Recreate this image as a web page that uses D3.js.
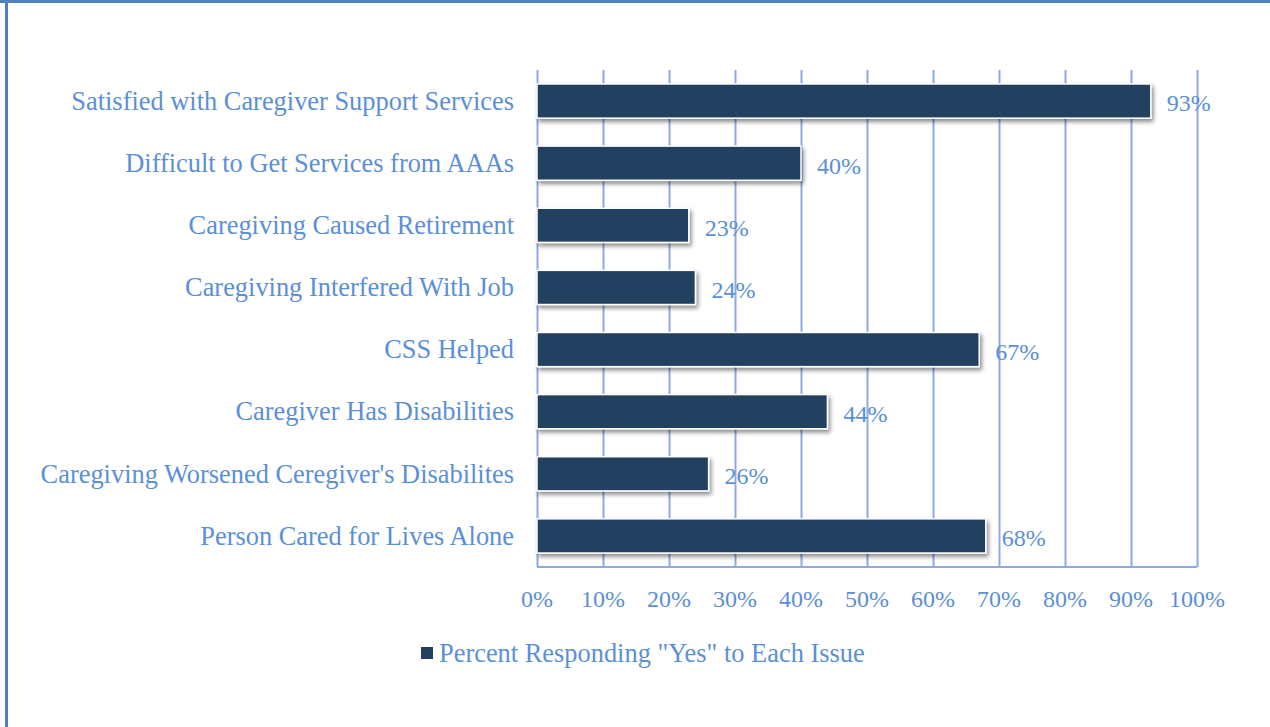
<!DOCTYPE html>
<html>
<head>
<meta charset="utf-8">
<script src="https://cdn.jsdelivr.net/npm/d3@7"></script>
<style>
	body { margin: 0; background: #fff; }
	svg text { font-family: "Liberation Serif", "Times New Roman", serif; fill: #5b8fd6; }
	.grid line { stroke: #8eaadf; stroke-width: 2; }
	.grid path { display: none; }
</style>
</head>
<body>
<svg id="chart" width="1270" height="727"></svg>
<script>
"use strict";

var categories = [
	"Satisfied with Caregiver Support Services",
	"Difficult to Get Services from AAAs",
	"Caregiving Caused Retirement",
	"Caregiving Interfered With Job",
	"CSS Helped",
	"Caregiver Has Disabilities",
	"Caregiving Worsened Ceregiver's Disabilites",
	"Person Cared for Lives Alone"
];
var percentYes = [93, 40, 23, 24, 67, 44, 26, 68];
var xTicks = [0, 10, 20, 30, 40, 50, 60, 70, 80, 90, 100];
var seriesName = "Percent Responding \"Yes\" to Each Issue";

var barColour = "#243f60";
var lineColour = "#8eaadf";

var svg = d3.select("#chart");
var margin = {top: 70, left: 537, right: 73, bottom: 160};
var width = 1270 - margin.left - margin.right;
var height = 727 - margin.top - margin.bottom;

// Outer frame: only top and left edges show
svg.append("rect").attr("x", 0).attr("y", 0).attr("width", 1270).attr("height", 3).attr("fill", "#4f81bd");
svg.append("rect").attr("x", 5).attr("y", 0).attr("width", 3).attr("height", 727).attr("fill", "#4f81bd");

// Drop shadow for the bars
var defs = svg.append("defs");
var shadow = defs.append("filter").attr("id", "shadow")
	.attr("x", "-5%").attr("y", "-20%").attr("width", "115%").attr("height", "160%");
shadow.append("feDropShadow")
	.attr("dx", 2).attr("dy", 3).attr("stdDeviation", 2.2)
	.attr("flood-color", "#000").attr("flood-opacity", 0.45);

var chart = svg.append("g")
	.attr("transform", "translate(" + margin.left + "," + margin.top + ")");

var x = d3.scaleLinear().domain([0, 100]).range([0, width]);
var y = d3.scaleBand().domain(categories).range([0, height]).paddingInner(0.45).paddingOuter(0.225);

// Vertical grid lines
chart.append("g")
	.attr("class", "grid")
	.attr("transform", "translate(0," + height + ")")
	.call(d3.axisBottom(x).tickValues(xTicks).tickSize(-height).tickFormat(""));

// Bottom axis line
chart.append("line")
	.attr("x1", 0).attr("x2", width)
	.attr("y1", height).attr("y2", height)
	.attr("stroke", lineColour).attr("stroke-width", 2);

// Tick labels
chart.selectAll("text.tick-label")
	.data(xTicks)
	.enter()
	.append("text")
	.attr("class", "tick-label")
	.attr("x", function(d) { return x(d); })
	.attr("y", height + 32)
	.attr("dy", "0.35em")
	.attr("text-anchor", "middle")
	.style("font-size", "24px")
	.text(function(d) { return d + "%"; });

// Category labels
chart.selectAll("text.cat-label")
	.data(categories)
	.enter()
	.append("text")
	.attr("class", "cat-label")
	.attr("x", -23)
	.attr("y", function(d) { return y(d) + y.bandwidth() / 2; })
	.attr("dy", "0.33em")
	.attr("text-anchor", "end")
	.style("font-size", "26.4px")
	.text(function(d) { return d; });

// Bars
chart.selectAll("rect.bar")
	.data(percentYes)
	.enter()
	.append("rect")
	.attr("class", "bar")
	.attr("x", x(0))
	.attr("y", function(d, i) { return y(categories[i]); })
	.attr("width", function(d) { return x(d) - x(0); })
	.attr("height", y.bandwidth())
	.attr("fill", barColour)
	.attr("stroke", "#fff")
	.attr("stroke-width", 1.5)
	.attr("filter", "url(#shadow)");

// Value labels
chart.selectAll("text.value")
	.data(percentYes)
	.enter()
	.append("text")
	.attr("class", "value")
	.attr("x", function(d) { return x(d) + 16; })
	.attr("y", function(d, i) { return y(categories[i]) + y.bandwidth() / 2 + 2; })
	.attr("dy", "0.35em")
	.style("font-size", "24px")
	.text(function(d) { return d + "%"; });

// Legend
var legend = svg.append("g").attr("transform", "translate(421,653)");
legend.append("rect")
	.attr("x", 0).attr("y", -6).attr("width", 12).attr("height", 12)
	.attr("fill", barColour);
legend.append("text")
	.attr("x", 18).attr("y", 0).attr("dy", "0.33em")
	.style("font-size", "26.4px")
	.text(seriesName);
</script>
</body>
</html>
